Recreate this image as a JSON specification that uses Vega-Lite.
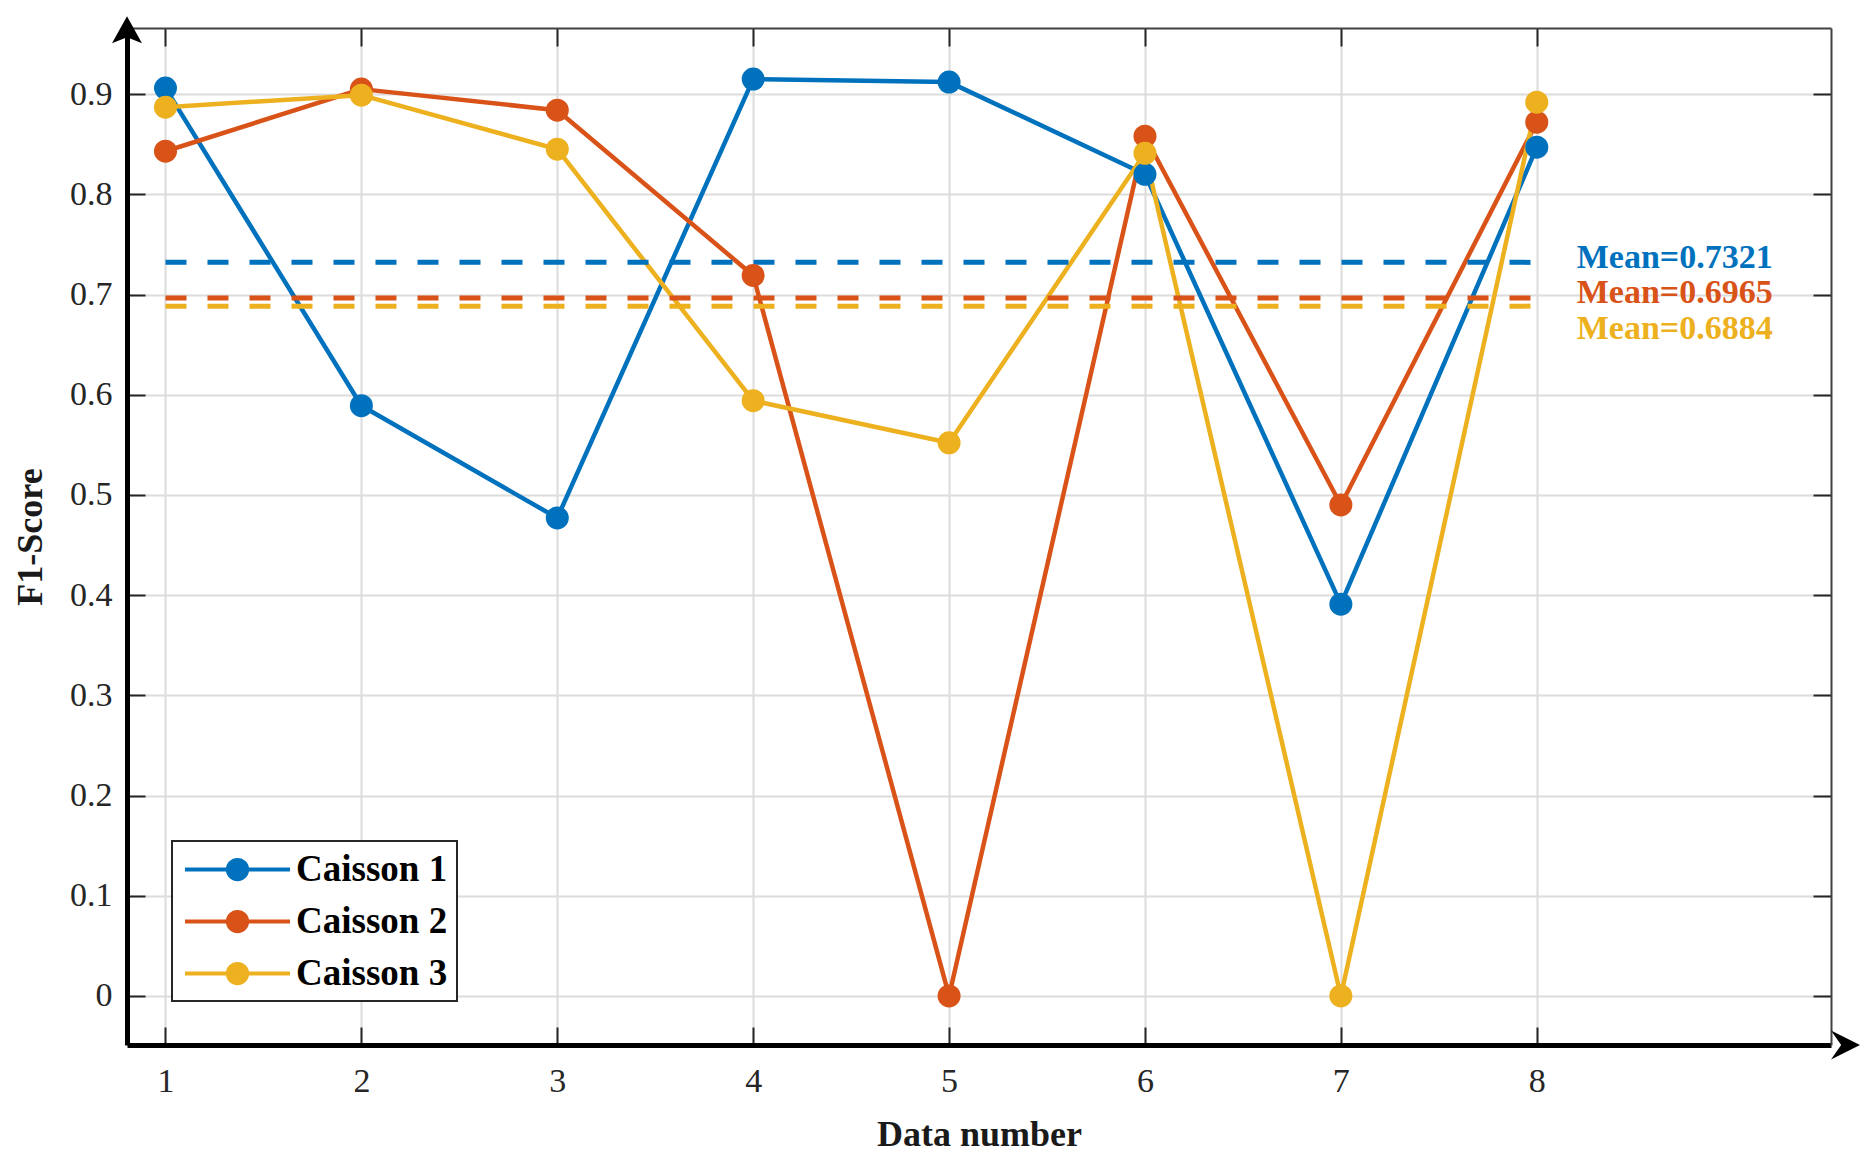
{
  "$schema": "https://vega.github.io/schema/vega-lite/v6.json",
  "width": 1704,
  "height": 1017,
  "autosize": {"type": "none"},
  "padding": {"left": 127, "top": 28, "right": 43, "bottom": 114},
  "background": "white",
  "config": {"view": {"stroke": null}, "font": "Liberation Serif"},
  "datasets": {
    "scores": [
      {"n": 1, "series": "Caisson 1", "f1": 0.906},
      {"n": 2, "series": "Caisson 1", "f1": 0.589},
      {"n": 3, "series": "Caisson 1", "f1": 0.477},
      {"n": 4, "series": "Caisson 1", "f1": 0.915},
      {"n": 5, "series": "Caisson 1", "f1": 0.912},
      {"n": 6, "series": "Caisson 1", "f1": 0.820},
      {"n": 7, "series": "Caisson 1", "f1": 0.391},
      {"n": 8, "series": "Caisson 1", "f1": 0.847},
      {"n": 1, "series": "Caisson 2", "f1": 0.843},
      {"n": 2, "series": "Caisson 2", "f1": 0.905},
      {"n": 3, "series": "Caisson 2", "f1": 0.884},
      {"n": 4, "series": "Caisson 2", "f1": 0.719},
      {"n": 5, "series": "Caisson 2", "f1": 0},
      {"n": 6, "series": "Caisson 2", "f1": 0.858},
      {"n": 7, "series": "Caisson 2", "f1": 0.490},
      {"n": 8, "series": "Caisson 2", "f1": 0.872},
      {"n": 1, "series": "Caisson 3", "f1": 0.887},
      {"n": 2, "series": "Caisson 3", "f1": 0.899},
      {"n": 3, "series": "Caisson 3", "f1": 0.845},
      {"n": 4, "series": "Caisson 3", "f1": 0.594},
      {"n": 5, "series": "Caisson 3", "f1": 0.552},
      {"n": 6, "series": "Caisson 3", "f1": 0.841},
      {"n": 7, "series": "Caisson 3", "f1": 0},
      {"n": 8, "series": "Caisson 3", "f1": 0.892}
    ],
    "means": [
      {"series": "Caisson 1", "mean": 0.7321, "first": 1, "last": 8, "label": "Mean=0.7321"},
      {"series": "Caisson 2", "mean": 0.6965, "first": 1, "last": 8, "label": "Mean=0.6965"},
      {"series": "Caisson 3", "mean": 0.6884, "first": 1, "last": 8, "label": "Mean=0.6884"}
    ]
  },
  "data": {"name": "scores"},
  "layer": [
    {
      "mark": {"type": "line", "strokeWidth": 4.5, "strokeJoin": "round"},
      "encoding": {
        "x": {
          "field": "n", "type": "quantitative",
          "scale": {"domain": [0.8035, 9.502], "nice": false, "zero": false},
          "axis": {
            "orient": "bottom", "values": [1, 2, 3, 4, 5, 6, 7, 8], "format": "d",
            "title": "Data number", "titleFont": "Liberation Serif", "titleFontSize": 36,
            "titleFontWeight": "bold", "titleColor": "#1a1a1a", "titlePadding": 19,
            "labelFont": "Liberation Serif", "labelFontSize": 34, "labelColor": "#262626",
            "labelPadding": 37.6, "labelFlush": false, "labelOverlap": false, "labelAngle": 0,
            "tickSize": -18, "tickWidth": 2, "tickColor": "#262626",
            "domainColor": "black", "domainWidth": 5,
            "grid": true, "gridColor": "#dcdcdc", "gridWidth": 2
          }
        },
        "y": {
          "field": "f1", "type": "quantitative",
          "scale": {"domain": [-0.049, 0.966], "nice": false, "zero": false},
          "axis": {
            "orient": "left", "values": [0, 0.1, 0.2, 0.3, 0.4, 0.5, 0.6, 0.7, 0.8, 0.9], "format": "~g",
            "title": "F1-Score", "titleFont": "Liberation Serif", "titleFontSize": 36,
            "titleFontWeight": "bold", "titleColor": "#1a1a1a", "titlePadding": 20,
            "labelFont": "Liberation Serif", "labelFontSize": 34, "labelColor": "#262626",
            "labelPadding": 33, "labelFlush": false, "labelOverlap": false,
            "tickSize": -18, "tickWidth": 2, "tickColor": "#262626",
            "domainColor": "black", "domainWidth": 5,
            "grid": true, "gridColor": "#dcdcdc", "gridWidth": 2
          }
        },
        "color": {
          "field": "series", "type": "nominal",
          "scale": {"domain": ["Caisson 1", "Caisson 2", "Caisson 3"], "range": ["#0072BD", "#D95319", "#EDB120"]},
          "legend": {
            "orient": "none", "legendX": 45, "legendY": 813, "title": null,
            "strokeColor": "#262626", "fillColor": "white", "padding": 9,
            "symbolType": "M-3,0L3,0M-0.55,0A0.55,0.55 0 1,0 0.55,0A0.55,0.55 0 1,0 -0.55,0",
            "symbolSize": 1225, "symbolStrokeWidth": 4, "symbolOffset": 37,
            "labelOffset": 39, "labelFont": "Liberation Serif", "labelFontSize": 37,
            "labelFontWeight": "bold", "labelColor": "black", "labelLimit": 400, "rowPadding": 14,
            "encode": {
              "legend": {"update": {"strokeWidth": {"value": 2}}},
              "symbols": {"update": {
                "stroke": {"scale": "color", "field": "value"},
                "fill": {"scale": "color", "field": "value"},
                "strokeWidth": {"value": 4},
                "opacity": {"value": 1}
              }}
            }
          }
        }
      }
    },
    {
      "data": {"name": "means"},
      "mark": {"type": "rule", "strokeWidth": 5, "strokeDash": [21, 21]},
      "encoding": {
        "x": {"field": "first", "type": "quantitative", "axis": null},
        "x2": {"field": "last"},
        "y": {"field": "mean", "type": "quantitative", "axis": null},
        "color": {"field": "series", "type": "nominal"}
      }
    },
    {
      "mark": {"type": "point", "shape": "circle", "filled": true, "size": 529, "opacity": 1, "strokeWidth": 0},
      "encoding": {
        "x": {"field": "n", "type": "quantitative", "axis": null},
        "y": {"field": "f1", "type": "quantitative", "axis": null},
        "color": {"field": "series", "type": "nominal"}
      }
    },
    {
      "data": {"name": "means"},
      "transform": [{"filter": "datum.series === 'Caisson 1'"}],
      "mark": {"type": "text", "align": "left", "baseline": "alphabetic", "dx": 40, "dy": 5.9, "font": "Liberation Serif", "fontSize": 34, "fontWeight": "bold"},
      "encoding": {
        "x": {"field": "last", "type": "quantitative", "axis": null},
        "y": {"field": "mean", "type": "quantitative", "axis": null},
        "text": {"field": "label"},
        "color": {"field": "series", "type": "nominal"}
      }
    },
    {
      "data": {"name": "means"},
      "transform": [{"filter": "datum.series === 'Caisson 2'"}],
      "mark": {"type": "text", "align": "left", "baseline": "alphabetic", "dx": 40, "dy": 5.3, "font": "Liberation Serif", "fontSize": 34, "fontWeight": "bold"},
      "encoding": {
        "x": {"field": "last", "type": "quantitative", "axis": null},
        "y": {"field": "mean", "type": "quantitative", "axis": null},
        "text": {"field": "label"},
        "color": {"field": "series", "type": "nominal"}
      }
    },
    {
      "data": {"name": "means"},
      "transform": [{"filter": "datum.series === 'Caisson 3'"}],
      "mark": {"type": "text", "align": "left", "baseline": "alphabetic", "dx": 40, "dy": 33.1, "font": "Liberation Serif", "fontSize": 34, "fontWeight": "bold"},
      "encoding": {
        "x": {"field": "last", "type": "quantitative", "axis": null},
        "y": {"field": "mean", "type": "quantitative", "axis": null},
        "text": {"field": "label"},
        "color": {"field": "series", "type": "nominal"}
      }
    },
    {
      "data": {"values": [{}]},
      "mark": {"type": "point", "shape": "M0,-0.78L1,1.02L0,0.62L-1,1.02Z", "size": 900, "filled": true, "color": "black", "opacity": 1, "strokeWidth": 0, "clip": false},
      "encoding": {
        "x": {
          "datum": 0.8035, "type": "quantitative",
          "axis": {
            "orient": "top", "values": [1, 2, 3, 4, 5, 6, 7, 8], "labels": false, "title": null,
            "grid": false, "tickSize": -18, "tickWidth": 2, "tickColor": "#262626",
            "domainColor": "#404040", "domainWidth": 2
          }
        },
        "y": {
          "datum": 0.966, "type": "quantitative",
          "axis": {
            "orient": "right", "values": [0, 0.1, 0.2, 0.3, 0.4, 0.5, 0.6, 0.7, 0.8, 0.9], "labels": false, "title": null,
            "grid": false, "tickSize": -18, "tickWidth": 2, "tickColor": "#262626",
            "domainColor": "#404040", "domainWidth": 2
          }
        }
      }
    },
    {
      "data": {"values": [{}]},
      "mark": {"type": "point", "shape": "M2,0L0,-1L0.7,0L0,1Z", "size": 841, "filled": true, "color": "black", "opacity": 1, "strokeWidth": 0, "clip": false},
      "encoding": {
        "x": {"datum": 9.502, "type": "quantitative", "axis": null},
        "y": {"datum": -0.049, "type": "quantitative", "axis": null}
      }
    }
  ],
  "resolve": {"axis": {"x": "independent", "y": "independent"}}
}
